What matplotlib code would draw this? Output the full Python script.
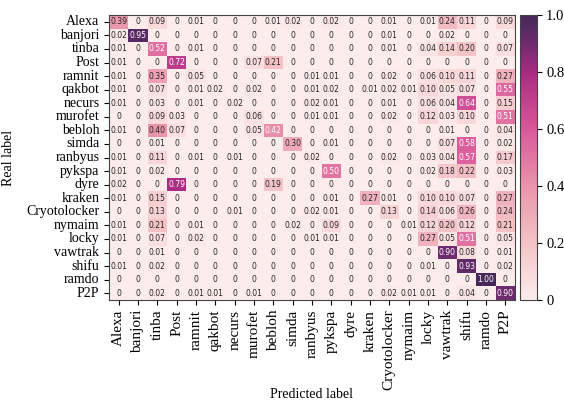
import numpy as np
import matplotlib
matplotlib.use("Agg")
import matplotlib.pyplot as plt
import seaborn as sns
from matplotlib.colors import LinearSegmentedColormap

labels = ["Alexa", "banjori", "tinba", "Post", "ramnit", "qakbot", "necurs",
          "murofet", "bebloh", "simda", "ranbyus", "pykspa", "dyre", "kraken",
          "Cryotolocker", "nymaim", "locky", "vawtrak", "shifu", "ramdo", "P2P"]

# rows = real label, columns = predicted label (row-normalised)
conf = [
    [0.39, 0, 0.09, 0, 0.01, 0, 0, 0, 0.01, 0.02, 0, 0.02, 0, 0, 0.01, 0, 0.01, 0.24, 0.11, 0, 0.09],
    [0.02, 0.95, 0, 0, 0, 0, 0, 0, 0, 0, 0, 0, 0, 0, 0.01, 0, 0, 0.02, 0, 0, 0],
    [0.01, 0, 0.52, 0, 0.01, 0, 0, 0, 0, 0, 0, 0, 0, 0, 0.01, 0, 0.04, 0.14, 0.20, 0, 0.07],
    [0.01, 0, 0, 0.72, 0, 0, 0, 0.07, 0.21, 0, 0, 0, 0, 0, 0, 0, 0, 0, 0, 0, 0],
    [0.01, 0, 0.35, 0, 0.05, 0, 0, 0, 0, 0, 0.01, 0.01, 0, 0, 0.02, 0, 0.06, 0.10, 0.11, 0, 0.27],
    [0.01, 0, 0.07, 0, 0.01, 0.02, 0, 0.02, 0, 0, 0.01, 0.02, 0, 0.01, 0.02, 0.01, 0.10, 0.05, 0.07, 0, 0.55],
    [0.01, 0, 0.03, 0, 0.01, 0, 0.02, 0, 0, 0, 0.02, 0.01, 0, 0, 0.01, 0, 0.06, 0.04, 0.64, 0, 0.15],
    [0, 0, 0.09, 0.03, 0, 0, 0, 0.06, 0, 0, 0.01, 0.01, 0, 0, 0.02, 0, 0.12, 0.03, 0.10, 0, 0.51],
    [0.01, 0, 0.40, 0.07, 0, 0, 0, 0.05, 0.42, 0, 0, 0, 0, 0, 0, 0, 0, 0.01, 0, 0, 0.04],
    [0, 0, 0.01, 0, 0, 0, 0, 0, 0, 0.30, 0, 0.01, 0, 0, 0, 0, 0, 0.07, 0.58, 0, 0.02],
    [0.01, 0, 0.11, 0, 0.01, 0, 0.01, 0, 0, 0, 0.02, 0, 0, 0, 0.02, 0, 0.03, 0.04, 0.57, 0, 0.17],
    [0.01, 0, 0.02, 0, 0, 0, 0, 0, 0, 0, 0, 0.50, 0, 0, 0, 0, 0.02, 0.18, 0.22, 0, 0.03],
    [0.02, 0, 0, 0.79, 0, 0, 0, 0, 0.19, 0, 0, 0, 0, 0, 0, 0, 0, 0, 0, 0, 0],
    [0.01, 0, 0.15, 0, 0, 0, 0, 0, 0, 0, 0, 0.01, 0, 0.27, 0.01, 0, 0.10, 0.10, 0.07, 0, 0.27],
    [0, 0, 0.13, 0, 0, 0, 0.01, 0, 0, 0, 0.02, 0.01, 0, 0, 0.13, 0, 0.14, 0.06, 0.26, 0, 0.24],
    [0.01, 0, 0.21, 0, 0.01, 0, 0, 0, 0, 0.02, 0, 0.09, 0, 0, 0, 0.01, 0.12, 0.20, 0.12, 0, 0.21],
    [0.01, 0, 0.07, 0, 0.02, 0, 0, 0, 0, 0, 0.01, 0.01, 0, 0, 0, 0, 0.27, 0.05, 0.51, 0, 0.05],
    [0, 0, 0.01, 0, 0, 0, 0, 0, 0, 0, 0, 0, 0, 0, 0, 0, 0, 0.90, 0.08, 0, 0.01],
    [0.01, 0, 0.02, 0, 0, 0, 0, 0, 0, 0, 0, 0, 0, 0, 0, 0, 0.01, 0, 0.93, 0, 0.02],
    [0, 0, 0, 0, 0, 0, 0, 0, 0, 0, 0, 0, 0, 0, 0, 0, 0, 0, 0, 1.00, 0],
    [0, 0, 0.02, 0, 0.01, 0.01, 0, 0.01, 0, 0, 0, 0, 0, 0, 0.02, 0.01, 0.01, 0, 0.04, 0, 0.90],
]

cbar_ticks = [0, 0.2, 0.4, 0.6, 0.8, 1.0]
cbar_ticklabels = ["0", "0.2", "0.4", "0.6", "0.8", "1.0"]

plt.rcParams["font.family"] = ["Liberation Serif", "DejaVu Serif"]

cm = np.array(conf)
annot = np.array([["0" if v == 0 else f"{v:.2f}" for v in row] for row in cm])

cmap = LinearSegmentedColormap.from_list(
    "pinkpurple",
    [(0.0, "#fcedec"), (0.2, "#f4c3c6"), (0.4, "#e994aa"), (0.6, "#d9589b"),
     (0.8, "#a82b80"), (0.9, "#6f2b6e"), (1.0, "#452859")])

fig = plt.figure(figsize=(5.64, 4.05), dpi=100)
ax = fig.add_axes([109 / 564, 1 - 300 / 405, 406 / 564, 285 / 405])
cax = fig.add_axes([520 / 564, 1 - 300 / 405, 17 / 564, 285 / 405])

sns.heatmap(cm, ax=ax, cbar_ax=cax, cmap=cmap, vmin=0, vmax=1,
            annot=annot, fmt="", xticklabels=labels, yticklabels=labels,
            annot_kws={"fontsize": 5.5, "family": "DejaVu Sans"})

for s in ax.spines.values():
    s.set_visible(True)
    s.set_linewidth(0.8)
    s.set_color("#444444")

ax.tick_params(axis="both", length=3.5, width=0.8)
ax.tick_params(axis="y", labelsize=10)
ax.tick_params(axis="x", labelsize=11)
ax.set_xticklabels(labels, rotation=90)
ax.set_yticklabels(labels, rotation=0)
ax.set_xlabel("Predicted label", fontsize=10)
ax.set_ylabel("Real label", fontsize=10)
ax.xaxis.set_label_coords(0.5, -0.31)
ax.yaxis.set_label_coords(-0.231, 0.5)

cax.set_yticks(cbar_ticks)
cax.set_yticklabels(cbar_ticklabels)
cax.tick_params(length=3.5, width=0.8, labelsize=10.5, pad=3)
cb = ax.collections[0].colorbar
cb.outline.set_visible(True)
cb.outline.set_linewidth(0.8)
cb.outline.set_edgecolor("#444444")

fig.savefig("out.png", dpi=100)
